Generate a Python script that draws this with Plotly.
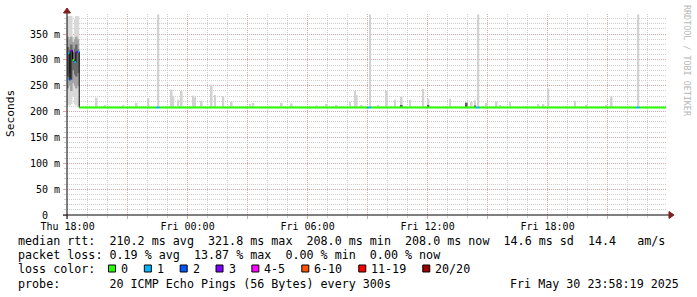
import plotly.graph_objects as go
import pandas as pd

# ---------------- data ----------------
x_start = "2025-05-29 17:58:19"
x_end = "2025-05-30 23:58:19"

# median rtt, drawn as steps; loss class index per segment
median_seg_start = ["2025-05-29 18:00", "2025-05-29 18:05", "2025-05-29 18:10", "2025-05-29 18:15",
                    "2025-05-29 18:20", "2025-05-29 18:25", "2025-05-29 18:30", "2025-05-29 18:35",
                    "2025-05-29 22:25", "2025-05-29 22:35", "2025-05-30 09:00", "2025-05-30 09:10",
                    "2025-05-30 14:25", "2025-05-30 14:35", "2025-05-30 22:25", "2025-05-30 22:35"]
median_seg_end = ["2025-05-29 18:05", "2025-05-29 18:10", "2025-05-29 18:15", "2025-05-29 18:20",
                  "2025-05-29 18:25", "2025-05-29 18:30", "2025-05-29 18:35", "2025-05-29 22:25",
                  "2025-05-29 22:35", "2025-05-30 09:00", "2025-05-30 09:10", "2025-05-30 14:25",
                  "2025-05-30 14:35", "2025-05-30 22:25", "2025-05-30 22:35", "2025-05-30 23:55"]
median_ms = [313, 262, 318, 300, 296, 315, 316, 208, 208, 208, 208, 208, 208, 208, 208, 208]
median_loss_class = [1, 2, 3, 0, 1, 3, 1, 0, 1, 0, 1, 0, 1, 0, 1, 0]

# early high-latency smoke (first half hour)
early_times = ["2025-05-29 18:00", "2025-05-29 18:05", "2025-05-29 18:10", "2025-05-29 18:15",
               "2025-05-29 18:20", "2025-05-29 18:25", "2025-05-29 18:30"]
early_min = [212, 212, 215, 230, 215, 212, 210]
early_lo = [245, 250, 240, 255, 250, 245, 250]
early_dark_lo = [268, 275, 262, 280, 272, 268, 275]
early_dark_hi = [325, 320, 330, 315, 322, 330, 320]
early_hi = [345, 340, 345, 335, 340, 345, 340]
early_max = [385, 385, 385, 345, 380, 385, 385]

# smoke spikes above the median (time, max rtt in ms)
spike_times = ["2025-05-29 19:25", "2025-05-29 19:50", "2025-05-29 20:45", "2025-05-29 21:25",
               "2025-05-29 22:00", "2025-05-29 22:30", "2025-05-29 23:10", "2025-05-29 23:15",
               "2025-05-29 23:30", "2025-05-29 23:40", "2025-05-30 00:15", "2025-05-30 00:20",
               "2025-05-30 00:40", "2025-05-30 01:10", "2025-05-30 01:20", "2025-05-30 01:45",
               "2025-05-30 02:10", "2025-05-30 03:05", "2025-05-30 03:15", "2025-05-30 04:40",
               "2025-05-30 05:10", "2025-05-30 06:25", "2025-05-30 06:55", "2025-05-30 07:25",
               "2025-05-30 08:05", "2025-05-30 08:20", "2025-05-30 08:25", "2025-05-30 08:40",
               "2025-05-30 09:05", "2025-05-30 09:30", "2025-05-30 09:55", "2025-05-30 10:20",
               "2025-05-30 10:40", "2025-05-30 11:05", "2025-05-30 11:45", "2025-05-30 12:00",
               "2025-05-30 13:05", "2025-05-30 13:55", "2025-05-30 14:10", "2025-05-30 14:20",
               "2025-05-30 14:30", "2025-05-30 14:55", "2025-05-30 15:25", "2025-05-30 15:35",
               "2025-05-30 16:05", "2025-05-30 17:30", "2025-05-30 17:45", "2025-05-30 18:00",
               "2025-05-30 19:20", "2025-05-30 19:55", "2025-05-30 20:55", "2025-05-30 21:10",
               "2025-05-30 22:30"]
spike_max_ms = [227, 213, 213, 217,
                226, 388, 243, 230,
                223, 240, 231, 228,
                221, 252, 232, 230,
                219, 215, 217, 217,
                216, 212, 215, 213,
                219, 240, 232, 213,
                388, 213, 241, 223,
                229, 223, 244, 225,
                225, 219, 219, 222,
                388, 217, 220, 213,
                219, 215, 215, 245,
                221, 213, 213, 229,
                388]
dark_times = ["2025-05-30 10:40", "2025-05-30 12:00", "2025-05-30 13:55", "2025-05-30 14:20"]
dark_max_ms = [213, 213, 217, 212]
base_ms = 208

# axis ticks
x_tick_vals = ["2025-05-29 18:00", "2025-05-29 21:00", "2025-05-30 00:00", "2025-05-30 03:00",
               "2025-05-30 06:00", "2025-05-30 09:00", "2025-05-30 12:00", "2025-05-30 15:00",
               "2025-05-30 18:00", "2025-05-30 21:00"]
x_tick_text = ["Thu 18:00", "", "Fri 00:00", "", "Fri 06:00", "", "Fri 12:00", "", "Fri 18:00", ""]
y_tick_vals = [0, 50, 100, 150, 200, 250, 300, 350]
y_tick_text = ["0  ", "50 m", "100 m", "150 m", "200 m", "250 m", "300 m", "350 m"]

loss_labels = ["0", "1", "2", "3", "4-5", "6-10", "11-19", "20/20"]
loss_colors = ["#26ff00", "#00b8ff", "#0059ff", "#7e00ff", "#ff00ff", "#ff5500", "#ff0000", "#a10000"]

line_rtt = "median rtt:  210.2 ms avg  321.8 ms max  208.0 ms min  208.0 ms now  14.6 ms sd  14.4   am/s"
line_loss = "packet loss: 0.19 % avg  13.87 % max  0.00 % min  0.00 % now"
line_color = "loss color:"
line_probe = "probe:       20 ICMP Echo Pings (56 Bytes) every 300s"
line_date = "Fri May 30 23:58:19 2025"
y_title = "Seconds"
watermark = "RRDTOOL / TOBI OETIKER"

# ---------------- figure ----------------
W, H = 697, 297
L, R, T, B = 67, 30, 14, 82
PW, PH = W - L - R, H - T - B
MONO = "DejaVu Sans Mono"


def px(x):
    return (x - L) / PW


def py(y):
    return (H - B - y) / PH


def nb(s):
    return s.replace(" ", "\u00a0")


half = pd.Timedelta(minutes=2.5)
step_ms = 300000

fig = go.Figure()

# early smoke layers
et = pd.to_datetime(early_times) + half
fig.add_trace(go.Bar(x=et, y=[a - b for a, b in zip(early_max, early_min)], base=early_min,
                     width=step_ms, marker=dict(color="#d8d8d8", line=dict(width=0)), hoverinfo="skip"))
fig.add_trace(go.Bar(x=et, y=[a - b for a, b in zip(early_hi, early_lo)], base=early_lo,
                     width=step_ms, marker=dict(color="#a4a4a4", line=dict(width=0)), hoverinfo="skip"))
fig.add_trace(go.Bar(x=et, y=[a - b for a, b in zip(early_dark_hi, early_dark_lo)], base=early_dark_lo,
                     width=step_ms, marker=dict(color="#6a6a6a", line=dict(width=0)), hoverinfo="skip"))

# spikes
st = pd.to_datetime(spike_times) + half
fig.add_trace(go.Bar(x=st, y=[v - base_ms for v in spike_max_ms], base=base_ms,
                     width=step_ms, marker=dict(color="#d2d2d2", line=dict(width=0)), hoverinfo="skip"))
dt = pd.to_datetime(dark_times) + half
fig.add_trace(go.Bar(x=dt, y=[v - base_ms for v in dark_max_ms], base=base_ms,
                     width=step_ms, marker=dict(color="#5a5a5a", line=dict(width=0)), hoverinfo="skip"))

# black connector of the median
fig.add_trace(go.Scatter(x=median_seg_start + [median_seg_end[-1]], y=median_ms + [median_ms[-1]],
                         mode="lines", line=dict(color="black", width=1, shape="hv"), hoverinfo="skip"))

# coloured median by loss class
for ci, col in enumerate(loss_colors):
    xs, ys = [], []
    for s, e, v, c in zip(median_seg_start, median_seg_end, median_ms, median_loss_class):
        if c == ci:
            xs += [s, e, None]
            ys += [v, v, None]
    if xs:
        fig.add_trace(go.Scatter(x=xs, y=ys, mode="lines", line=dict(color=col, width=2),
                                 hoverinfo="skip"))

MAJOR = "#e8a4a4"
MINOR = "#cdcdcd"

fig.update_layout(
    width=W, height=H, margin=dict(l=L, r=R, t=T, b=B),
    paper_bgcolor="white", plot_bgcolor="white", showlegend=False, barmode="overlay",
    font=dict(family=MONO, size=10, color="black"),
    xaxis=dict(type="date", range=[x_start, x_end], tickmode="array",
               tickvals=x_tick_vals, ticktext=x_tick_text,
               showgrid=True, gridcolor=MAJOR, griddash="1px,1px", gridwidth=1,
               ticks="outside", ticklen=3, tickcolor=MAJOR,
               minor=dict(dtick=3600000, tick0="2025-05-29 18:00", showgrid=True,
                          gridcolor=MINOR, griddash="1px,1px", ticks="outside", ticklen=2,
                          tickcolor=MINOR),
               zeroline=False, showline=False, fixedrange=True, ticklabelstandoff=-1,
               tickfont=dict(family=MONO, size=10, color="black")),
    yaxis=dict(range=[0, 389], tickmode="array", tickvals=y_tick_vals,
               ticktext=[nb(t) for t in y_tick_text],
               showgrid=True, gridcolor=MAJOR, griddash="1px,1px", gridwidth=1,
               ticks="outside", ticklen=3, tickcolor=MAJOR,
               minor=dict(dtick=10, tick0=0, showgrid=True, gridcolor=MINOR,
                          griddash="1px,1px", ticks="outside", ticklen=2, tickcolor=MINOR),
               zeroline=False, showline=False, fixedrange=True, ticklabelstandoff=1,
               tickfont=dict(family=MONO, size=10, color="black")),
)

shapes = []
# axes lines
shapes.append(dict(type="line", xref="paper", yref="paper", x0=px(63), x1=px(671), y0=0, y1=0,
                   line=dict(color="black", width=1), layer="above"))
shapes.append(dict(type="line", xref="paper", yref="paper", x0=0, x1=0, y0=py(219), y1=py(11),
                   line=dict(color="black", width=1), layer="above"))
# arrows
shapes.append(dict(type="path", xref="paper", yref="paper",
                   path=f"M {px(669)},{py(211.5)} L {px(674)},{py(215)} L {px(669)},{py(218.5)} Z",
                   fillcolor="#7f1f1f", line=dict(color="#7f1f1f", width=1), layer="above"))
shapes.append(dict(type="path", xref="paper", yref="paper",
                   path=f"M {px(63.5)},{py(13)} L {px(67)},{py(8)} L {px(70.5)},{py(13)} Z",
                   fillcolor="#7f1f1f", line=dict(color="#7f1f1f", width=1), layer="above"))

annotations = []
FS = 11.7
CW = FS * 0.602


def txt(s, x, y, anchor="left", size=FS, color="black", angle=0):
    annotations.append(dict(text=nb(s), xref="paper", yref="paper", x=px(x), y=py(y),
                            xanchor=anchor, yanchor="middle", showarrow=False, textangle=angle,
                            font=dict(family=MONO, size=size, color=color)))


txt(line_rtt, 15.5, 241)
txt(line_loss, 15.5, 255)
txt(line_color, 15.5, 269)
txt(line_probe, 15.5, 283.5)
txt(line_date, 681, 283.5, anchor="right")

# loss colour legend
xpos = 108.5
for lab, col in zip(loss_labels, loss_colors):
    shapes.append(dict(type="rect", xref="paper", yref="paper", x0=px(xpos), x1=px(xpos + 7),
                       y0=py(272), y1=py(265), fillcolor=col, line=dict(color="black", width=1)))
    lx = xpos + 10.5
    txt(lab, lx, 269)
    xpos = lx + len(lab) * CW + 18.3

txt(y_title, 10.5, 113.5, anchor="center", size=11.2, angle=-90)
txt(watermark, 687.5, 60.5, anchor="center", size=8.4, color="#b8b8b8", angle=90)

fig.update_layout(shapes=shapes, annotations=annotations)
fig.write_html("out.html")
